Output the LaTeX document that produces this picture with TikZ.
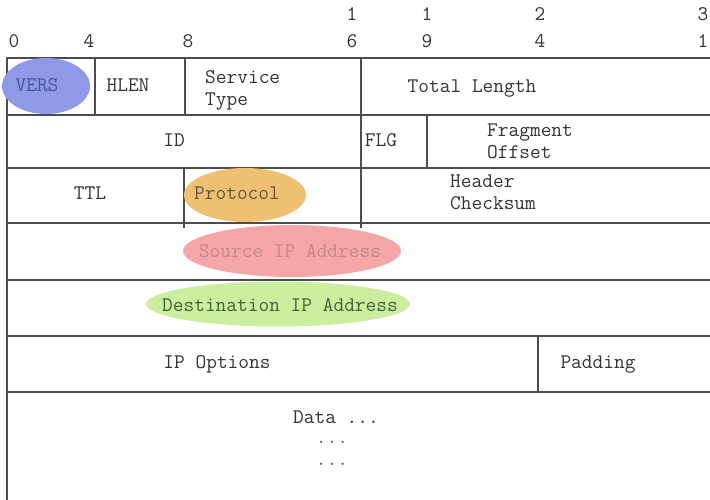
\documentclass[tikz,border=0pt]{standalone}
\usepackage{fontspec}
\usetikzlibrary{shapes.geometric}
\definecolor{versblue}{RGB}{142,154,232}
\definecolor{protoorange}{RGB}{240,192,114}
\definecolor{srcpink}{RGB}{245,166,166}
\definecolor{dstgreen}{RGB}{204,238,160}
\definecolor{versink}{RGB}{70,85,150}
\definecolor{protoink}{RGB}{100,85,60}
\definecolor{srcink}{RGB}{200,135,135}
\definecolor{dstink}{RGB}{60,100,50}
\tikzset{
  field/.style   = {font=\ttfamily\fontsize{20.8}{22}\selectfont, text=black!80,
                    inner sep=0pt, text height=13.5pt, text depth=1pt},
  twoline/.style = {field, align=left, anchor=west},
  bitnum/.style  = {field},
  blob/.style    = {ellipse, inner sep=0pt},
  rule/.style    = {draw=black!70, line width=1.6pt},
}

\begin{document}
\begin{tikzpicture}[x=1pt, y=-1pt]
      \useasboundingbox (0,0) rectangle (710,500);
      \foreach \x/\d [count=\i] in {14/0, 89/4, 188/8, 352/6, 427/9, 540/4, 703/1}
        \node[bitnum] (lo\i) at (\x,41) {\d};
      \foreach \x/\d [count=\i] in {352/1, 427/1, 540/2, 703/3}
        \node[bitnum] (hi\i) at (\x,14) {\d};
      \foreach \y in {58,115,168,223,280,336,392}
        \draw[rule] (7,\y) -- (710,\y);
      \draw[rule] (7,57) -- (7,500);
      \draw[rule] (95,57) -- (95,115);
      \draw[rule] (185,58) -- (185,115);
      \draw[rule] (361,58) -- (361,228);
      \draw[rule] (427,115) -- (427,168);
      \draw[rule] (184,168) -- (184,228);
      \draw[rule] (538,336) -- (538,392);
      \node[blob, fill=versblue, minimum width=88pt, minimum height=56pt]     (versbg)  at (46,86)   {};
      \node[blob, fill=protoorange, minimum width=122pt, minimum height=54pt] (protobg) at (245,195)  {};
      \node[blob, fill=srcpink, minimum width=218pt, minimum height=52pt]     (srcbg)   at (292,251)  {};
      \node[blob, fill=dstgreen, minimum width=264pt, minimum height=45pt]    (dstbg)   at (278,304)  {};
      \node[field, text=versink]  (vers)    at (37,85)   {VERS};
      \node[field]                (hlen)    at (128,85)  {HLEN};
      \node[twoline]              (tos)     at (205,99)  {Service\\Type};
      \node[field]                (totlen)  at (472,86)  {Total Length};
      \node[field]                (ident)   at (174,140) {ID};
      \node[field]                (flg)     at (381,140) {FLG};
      \node[twoline]              (fragoff) at (487,152) {Fragment\\Offset};
      \node[field]                (ttl)     at (90,193)  {TTL};
      \node[field, text=protoink] (proto)   at (237,193) {Protocol};
      \node[twoline]              (hdrsum)  at (450,203) {Header\\Checksum};
      \node[field, text=srcink]   (srcip)   at (290,251) {Source IP Address};
      \node[field, text=dstink]   (dstip)   at (280,305) {Destination IP Address};
      \node[field]                (ipopt)   at (217,362) {IP Options};
      \node[field]                (pad)     at (598,362) {Padding};
      \node[field]                (data)    at (336,417) {Data ...};
      \node[field, text=black!60] (dots1)   at (332,437) {...};
      \node[field, text=black!60] (dots2)   at (332,459) {...};
    \end{tikzpicture}
\end{document}
